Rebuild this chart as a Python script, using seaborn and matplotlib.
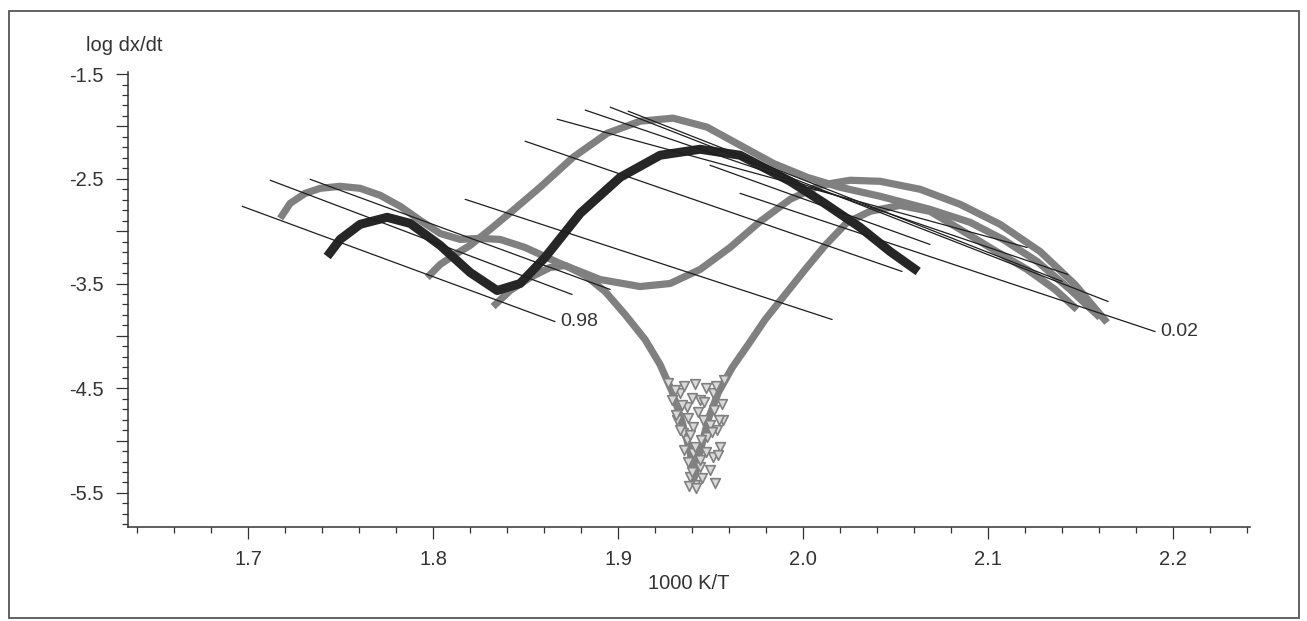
import numpy as np
import pandas as pd
import matplotlib
matplotlib.use("Agg")
import matplotlib.pyplot as plt
from matplotlib.patches import Rectangle
from matplotlib.ticker import FixedLocator, MultipleLocator, FuncFormatter
import seaborn as sns

# ---- measured curves: 1000/T (x) and log dx/dt (y) for each heating-rate run ----
run1_x = [1.7173, 1.7227, 1.7308, 1.7389, 1.7497, 1.7605, 1.7714, 1.7822, 1.7930, 1.8038,
          1.8146, 1.8254, 1.8362, 1.8497, 1.8686, 1.8903, 1.9119, 1.9281, 1.9443, 1.9605,
          1.9768, 1.9930, 2.0092, 2.0254, 2.0416, 2.0632, 2.0849, 2.1065, 2.1281, 2.1470, 2.1643]
run1_y = [-2.878, -2.734, -2.639, -2.591, -2.572, -2.591, -2.658, -2.763, -2.897, -3.022,
          -3.079, -3.069, -3.079, -3.156, -3.309, -3.462, -3.529, -3.500, -3.366, -3.156,
          -2.907, -2.696, -2.562, -2.514, -2.524, -2.600, -2.744, -2.935, -3.194, -3.510, -3.873]

run2_x = [1.7427, 1.7497, 1.7605, 1.7751, 1.7876, 1.8038, 1.8200, 1.8346, 1.8470, 1.8605,
          1.8795, 1.9011, 1.9227, 1.9443, 1.9659, 1.9930, 2.0108, 2.0308, 2.0470, 2.0622]
run2_y = [-3.242, -3.079, -2.935, -2.868, -2.926, -3.136, -3.395, -3.567, -3.500, -3.251,
          -2.830, -2.486, -2.275, -2.218, -2.275, -2.524, -2.725, -2.964, -3.194, -3.385]

run3_x = [1.7968, 1.8038, 1.8119, 1.8200, 1.8308, 1.8432, 1.8578, 1.8757, 1.8941, 1.9119,
          1.9297, 1.9481, 1.9659, 1.9838, 2.0022, 2.0200, 2.0416, 2.0686, 2.0903, 2.1081,
          2.1265, 2.1443, 2.1605]
run3_y = [-3.443, -3.318, -3.222, -3.136, -2.983, -2.801, -2.581, -2.294, -2.065, -1.950,
          -1.921, -2.007, -2.179, -2.352, -2.486, -2.581, -2.667, -2.792, -2.916, -3.079,
          -3.289, -3.557, -3.825]

run4_x = [1.8324, 1.8416, 1.8524, 1.8632, 1.8714, 1.8822, 1.8930, 1.9038, 1.9146, 1.9227,
          1.9292, 1.9346, 1.9389, 1.9411, 1.9443, 1.9486, 1.9541, 1.9616, 1.9703, 1.9795,
          1.9903, 2.0011, 2.0119, 2.0238, 2.0362, 2.0524, 2.0686, 2.0849, 2.1027, 2.1211,
          2.1362, 2.1481]
run4_y = [-3.720, -3.567, -3.443, -3.347, -3.328, -3.423, -3.577, -3.797, -4.036, -4.275,
          -4.533, -4.821, -5.108, -5.356, -5.108, -4.801, -4.543, -4.304, -4.084, -3.844,
          -3.605, -3.366, -3.136, -2.916, -2.811, -2.754, -2.811, -2.983, -3.175, -3.366,
          -3.557, -3.749]

# scattered points around the rate minimum of run 4
run4_noise_x = [1.9373, 1.9443, 1.9514, 1.9319, 1.9405, 1.9535, 1.9373, 1.9481, 1.9551, 1.9405,
                1.9514, 1.9443, 1.9389, 1.9524, 1.9416, 1.9351, 1.9459, 1.9335, 1.9568,
                1.9270, 1.9308, 1.9357, 1.9416, 1.9476, 1.9530, 1.9573, 1.9292, 1.9346,
                1.9400, 1.9465, 1.9519, 1.9562, 1.9314, 1.9378, 1.9432, 1.9497, 1.9546,
                1.9335, 1.9389, 1.9449, 1.9508, 1.9357, 1.9416, 1.9476, 1.9541, 1.9378,
                1.9443, 1.9497, 1.9400, 1.9454, 1.9384, 1.9422]
run4_noise_y = [-4.677, -4.610, -4.543, -4.801, -4.868, -4.897, -4.993, -4.964, -5.060, -5.117,
                -5.156, -5.251, -5.347, -5.404, -5.423, -4.926, -4.801, -4.543, -4.801,
                -4.447, -4.514, -4.476, -4.457, -4.495, -4.476, -4.419, -4.610, -4.658,
                -4.591, -4.629, -4.706, -4.648, -4.754, -4.782, -4.725, -4.849, -4.801,
                -4.897, -4.945, -4.993, -4.916, -5.089, -5.060, -5.108, -5.136, -5.203,
                -5.184, -5.280, -5.299, -5.356, -5.433, -5.452]

# ---- isoconversional lines (start and end of each line) ----
iso_x0 = [1.6968, 1.7119, 1.7335, 1.8173, 1.8497, 1.8670, 1.8822, 1.8957, 1.9054, 1.9497, 1.9659]
iso_y0 = [-2.763, -2.514, -2.505, -2.696, -2.141, -1.931, -1.844, -1.816, -1.854, -2.371, -2.639]
iso_x1 = [1.8659, 1.8751, 1.8957, 2.0157, 2.0535, 2.1211, 2.1432, 2.1649, 2.1400, 2.0686, 2.1903]
iso_y1 = [-3.864, -3.605, -3.557, -3.844, -3.385, -3.156, -3.414, -3.672, -3.480, -3.127, -3.959]
iso_labels = {0: "0.98", 10: "0.02"}

x_major = [1.7, 1.8, 1.9, 2.0, 2.1, 2.2]
y_major = [-5.5, -5.0, -4.5, -4.0, -3.5, -3.0, -2.5, -2.0, -1.5]
y_labelled = [-5.5, -4.5, -3.5, -2.5, -1.5]

sns.set_theme(style="white")
plt.rcParams["font.family"] = ["Liberation Sans", "DejaVu Sans"]
plt.rcParams["text.color"] = "#333333"
plt.rcParams["axes.labelcolor"] = "#333333"
plt.rcParams["xtick.color"] = "#333333"
plt.rcParams["ytick.color"] = "#333333"

fig = plt.figure(figsize=(13.07, 6.21), dpi=100)
ax = fig.add_axes([0.0979, 0.1514, 0.8585, 0.7327])

GREY = "#808080"
DARK = "#262626"
LINE = "#1e1e1e"

# isoconversional lines first, curves drawn over them
for i, (x0, y0, x1, y1) in enumerate(zip(iso_x0, iso_y0, iso_x1, iso_y1)):
    ax.plot([x0, x1], [y0, y1], color=LINE, lw=0.9, zorder=3)
    if i in iso_labels:
        ax.text(x1 + 0.003, y1, iso_labels[i], fontsize=14, ha="left", va="center",
                color="#333333")

runs = [(run1_x, run1_y, GREY, 5.2), (run3_x, run3_y, GREY, 5.2),
        (run4_x, run4_y, GREY, 5.2), (run2_x, run2_y, DARK, 6.5)]
for xs, ys, col, lw in runs:
    df = pd.DataFrame({"x": xs, "y": ys})
    sns.lineplot(data=df, x="x", y="y", sort=False, color=col, lw=lw, ax=ax,
                 solid_capstyle="butt", solid_joinstyle="round", zorder=2)

noise = pd.DataFrame({"x": run4_noise_x, "y": run4_noise_y})
sns.scatterplot(data=noise, x="x", y="y", marker="v", s=48, facecolor="#d9d9d9",
                edgecolor=GREY, linewidth=1.2, ax=ax, zorder=2)

ax.set_xlim(1.635, 2.2416)
ax.set_ylim(-5.825, -1.48)

ax.xaxis.set_major_locator(FixedLocator(x_major))
ax.xaxis.set_minor_locator(MultipleLocator(0.02))
ax.xaxis.set_major_formatter(FuncFormatter(lambda v, p: f"{v:.1f}"))
ax.yaxis.set_major_locator(FixedLocator(y_major))
ax.yaxis.set_minor_locator(MultipleLocator(0.1))
ax.yaxis.set_major_formatter(FuncFormatter(
    lambda v, p: f"{v:.1f}" if any(abs(v - t) < 1e-6 for t in y_labelled) else ""))

ax.tick_params(axis="both", which="major", direction="out", length=8.5, width=0.9,
               labelsize=14.5, bottom=True, left=True)
ax.tick_params(axis="both", which="minor", direction="out", length=4.6, width=0.9,
               bottom=True, left=True)
ax.tick_params(axis="x", which="major", pad=8)
ax.tick_params(axis="y", which="major", pad=9)

for side in ("top", "right"):
    ax.spines[side].set_visible(False)
for side in ("left", "bottom"):
    ax.spines[side].set_color("#333333")
    ax.spines[side].set_linewidth(1.1)

ax.set_xlabel("1000 K/T", fontsize=14.5, labelpad=4)
ax.set_ylabel("")
fig.text(0.0658, 0.926, "log dx/dt", fontsize=14.5, ha="left", va="center")

fig.add_artist(Rectangle((0.0069, 0.0048), 0.987, 0.9775, transform=fig.transFigure,
                         fill=False, ec="#555555", lw=1.3))

fig.savefig("out.png", dpi=100, facecolor="white")
